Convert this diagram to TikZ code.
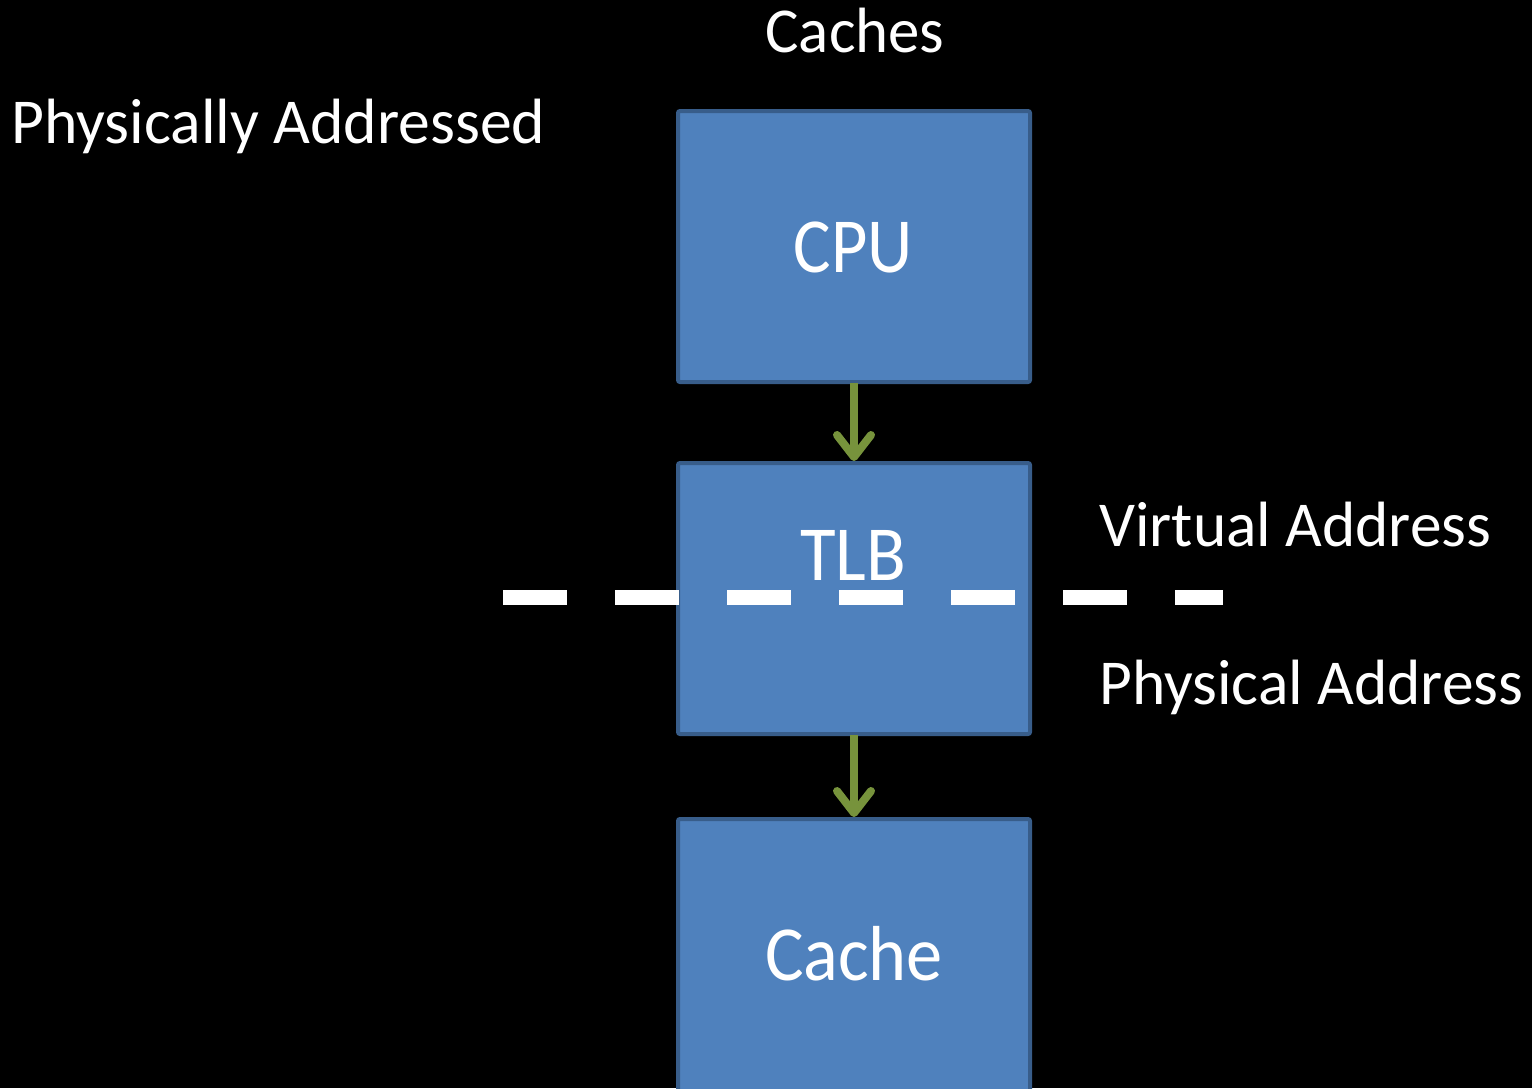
\documentclass[tikz,border=0pt]{standalone}
\usepackage{fontspec}
\setmainfont{Carlito}
\usetikzlibrary{arrows.meta}
\definecolor{boxfill}{HTML}{4F81BD}
\definecolor{boxline}{HTML}{385D8A}
\definecolor{arrgreen}{HTML}{77933C}
\newcommand\fitw[2]{\resizebox{#1}{\height}{#2}}
\begin{document}
\begin{tikzpicture}[x=0.5pt,y=-0.5pt,
  unitbox/.style={draw=boxline,fill=boxfill,line width=2pt,rounded corners=1pt},
  lbl/.style={text=white,inner sep=0pt,font=\fontsize{32}{38}\selectfont},
  boxlbl/.style={text=white,inner sep=0pt,anchor=base,font=\fontsize{39}{47}\selectfont},
  flow/.style={draw=arrgreen,line width=4pt,-{Straight Barb[length=11pt,width=17pt,line cap=round,line join=round]}},
  divider/.style={draw=white,line width=7.5pt,dash pattern=on 32pt off 24pt}]
\fill[black] (0,0) rectangle (1532,1088);
\useasboundingbox (0,0) rectangle (1532,1088);
\clip (0,0) rectangle (1532,1088);
% boxes
\draw[unitbox] (678,111) rectangle (1030,382);
\coordinate (cpuS) at (854,383);
\coordinate (tlbN) at (854,461);
\draw[unitbox] (678,463) rectangle (1030,734);
\coordinate (tlbS) at (854,735);
\coordinate (cacheN) at (854,817);
\draw[unitbox] (678,819) rectangle (1030,1110);
\node[boxlbl] (cpu) at (853,272) {\fitw{59.5pt}{CPU}};
\node[boxlbl] (tlb) at (853,580) {\fitw{53pt}{TLB}};
\node[boxlbl] (cache) at (854,980) {\fitw{89pt}{Cache}};
% arrows
\draw[flow] (cpuS) -- (tlbN);
\draw[flow] (tlbS) -- (cacheN);
% divider
\coordinate (dl) at (503,597);
\coordinate (dr) at (1223,597);
\draw[divider] (dl) -- (dr);
% labels
\node[lbl,anchor=base] (title) at (855,52) {\fitw{89.5pt}{Caches}};
\node[lbl,anchor=base west] (phys) at (11,143) {\fitw{267pt}{Physically Addressed}};
\node[lbl,anchor=base west] (va) at (1099,546) {\fitw{196pt}{Virtual Address}};
\node[lbl,anchor=base west] (pa) at (1099,704) {\fitw{212pt}{Physical Address}};
\end{tikzpicture}
\end{document}
